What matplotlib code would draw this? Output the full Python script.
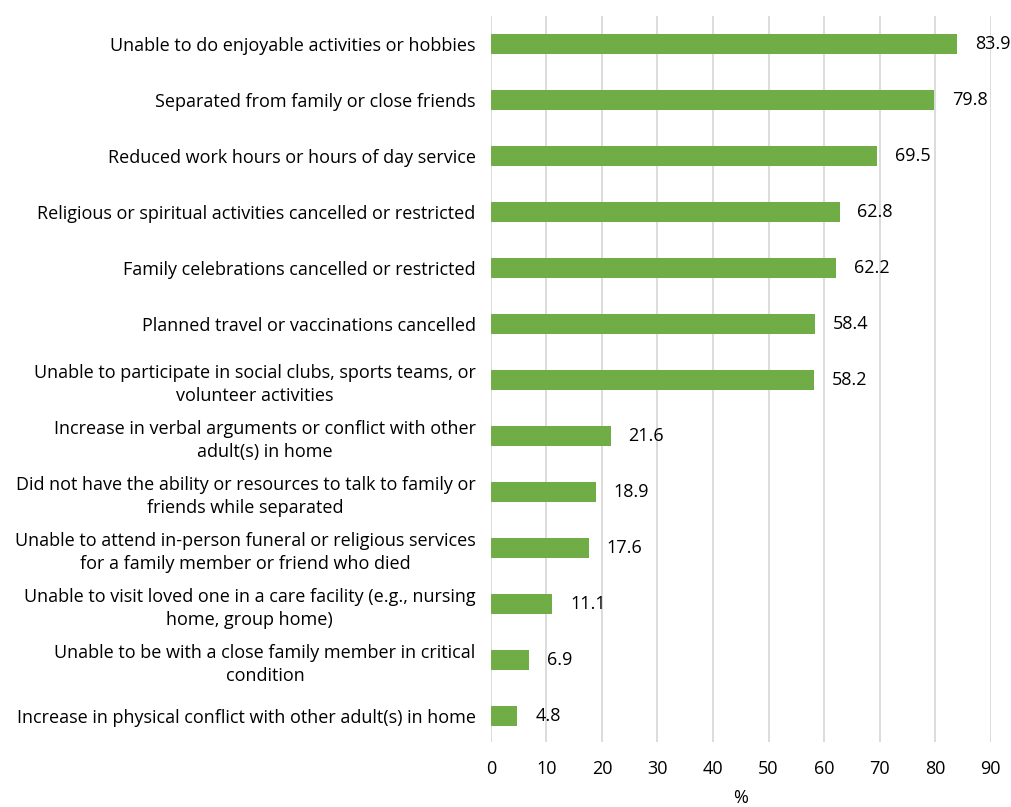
import matplotlib
matplotlib.use("Agg")
import matplotlib.pyplot as plt

categories = [
    "Unable to do enjoyable activities or hobbies",
    "Separated from family or close friends",
    "Reduced work hours or hours of day service",
    "Religious or spiritual activities cancelled or restricted",
    "Family celebrations cancelled or restricted",
    "Planned travel or vaccinations cancelled",
    "Unable to participate in social clubs, sports teams, or\nvolunteer activities",
    "Increase in verbal arguments or conflict with other\nadult(s) in home",
    "Did not have the ability or resources to talk to family or\nfriends while separated",
    "Unable to attend in-person funeral or religious services\nfor a family member or friend who died",
    "Unable to visit loved one in a care facility (e.g., nursing\nhome, group home)",
    "Unable to be with a close family member in critical\ncondition",
    "Increase in physical conflict with other adult(s) in home",
]
values = [83.9, 79.8, 69.5, 62.8, 62.2, 58.4, 58.2, 21.6, 18.9, 17.6, 11.1, 6.9, 4.8]
xticks = [0, 10, 20, 30, 40, 50, 60, 70, 80, 90]

plt.rcParams['font.family'] = ['Open Sans', 'DejaVu Sans']
FS = 13

fig = plt.figure(figsize=(10.12, 8.07), dpi=100)
ax = fig.add_axes([0.485, 0.0805, 0.494, 0.9])

y = list(range(len(categories)))
ax.barh(y, values, height=0.36, color="#70AD47", zorder=3)
for yi, v in zip(y, values):
    ax.text(v + 3.2, yi, f"{v:.1f}", va="center", ha="left", fontsize=FS, color="#000000")

ax.set_xlim(0, 90)
ax.set_ylim(12.47, -0.5)
ax.set_xticks(xticks)
ax.set_xticklabels([str(t) for t in xticks], fontsize=FS)
ax.set_yticks(y)
ax.set_yticklabels(categories, fontsize=FS, ha="right", multialignment="center",
                   linespacing=1.4)
ax.tick_params(axis="y", length=0, pad=11)
ax.tick_params(axis="x", length=0, pad=13)
ax.grid(axis="x", color="#D9D9D9", linewidth=1.3, zorder=0)
for s in ax.spines.values():
    s.set_visible(False)
ax.set_xlabel("%", fontsize=FS, labelpad=8)

fig.savefig("out.png", dpi=100)
